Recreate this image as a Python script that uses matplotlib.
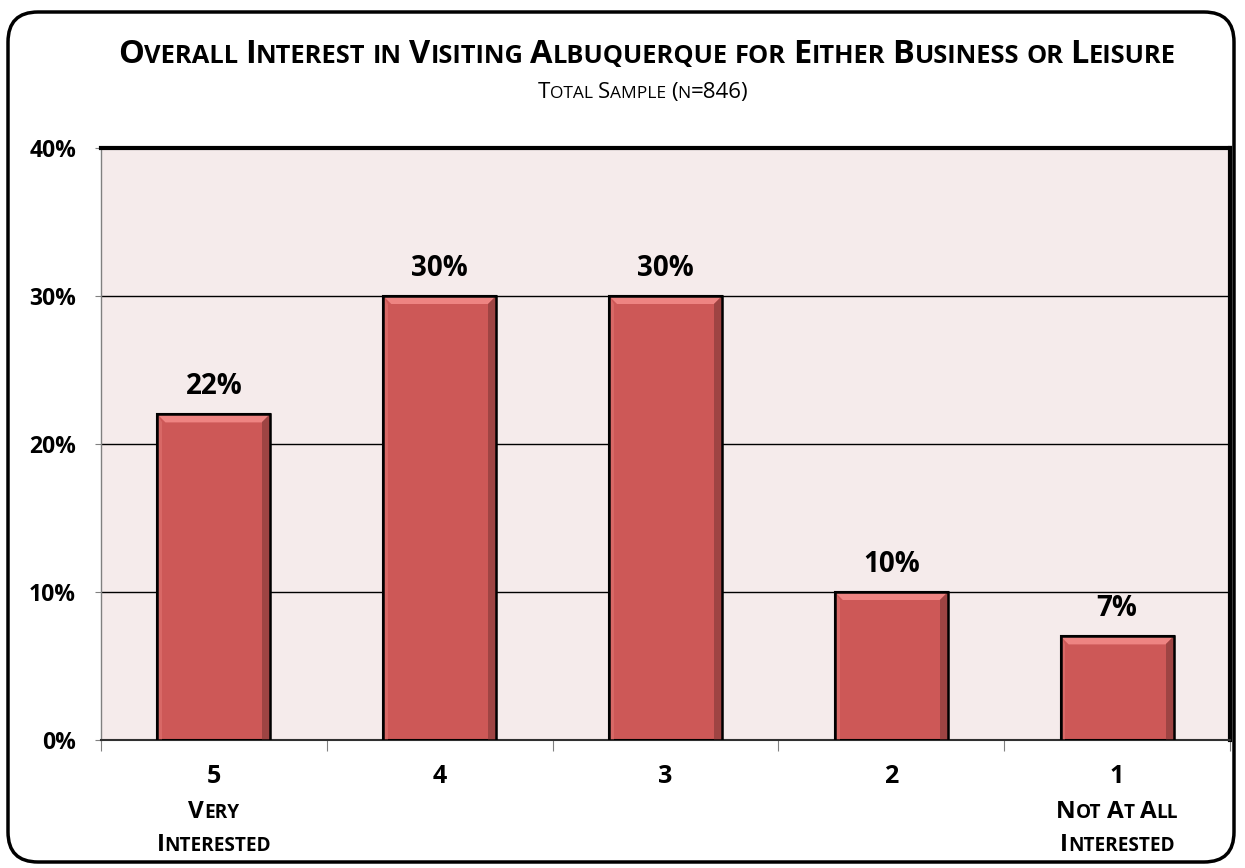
import matplotlib.pyplot as plt
from matplotlib.patches import FancyBboxPatch, Polygon
import numpy as np

# data
categories = ["5", "4", "3", "2", "1"]
sublabels = [["Very", "Interested"], [], [], [], ["Not At All", "Interested"]]
values = [22, 30, 30, 10, 7]
yticks = [0, 10, 20, 30, 40]

W, H = 1245, 868
plt.rcParams["font.family"] = ["Open Sans", "DejaVu Sans"]

fig = plt.figure(figsize=(W / 100, H / 100), dpi=100)
r = fig.canvas.get_renderer()


def px(x, y):
    return x / W, 1 - y / H


def small_caps(x, y, s, size, weight="bold", color="black"):
    # fake small caps: lowercase letters -> uppercase at smaller size
    runs = []
    for ch in s:
        kind = "space" if ch == " " else ("small" if ch.islower() else "big")
        if runs and runs[-1][1] == kind:
            runs[-1][0] += ch.upper()
        else:
            runs.append([ch.upper(), kind])
    pieces = []
    total = 0
    for txt, kind in runs:
        if kind == "space":
            w = len(txt) * size * 100 / 72 * 0.22
            pieces.append((None, w))
        else:
            fs = size * 0.78 if kind == "small" else size
            t = fig.text(0, 0, txt, fontsize=fs, fontweight=weight, color=color,
                         ha="left", va="baseline")
            w = t.get_window_extent(r).width
            pieces.append((t, w))
        total += w
    cur = x - total / 2
    for t, w in pieces:
        if t is not None:
            t.set_position(px(cur, y))
        cur += w


# outer rounded frame
frame = FancyBboxPatch((8 / 100, 6 / 100), (1234 - 8) / 100, (858 - 8) / 100,
                       boxstyle="round,pad=0,rounding_size=0.3",
                       transform=fig.dpi_scale_trans, fill=False,
                       edgecolor="black", linewidth=2.5, zorder=0)
fig.patches.append(frame)

# titles
small_caps(647, 63, "Overall Interest in Visiting Albuquerque for Either Business or Leisure", 23.5)
small_caps(643, 98, "Total Sample (n=846)", 16, weight="normal")

# axes
left, right, top, bottom = 101, 1230, 148, 740
ax = fig.add_axes([left / W, 1 - bottom / H, (right - left) / W, (bottom - top) / H])
ax.set_facecolor("#F5EBEB")
x = np.arange(len(categories))
ax.set_xlim(-0.5, len(categories) - 0.5)
ax.set_ylim(0, 40)

ax.grid(axis="y", color="black", linewidth=1)
ax.set_axisbelow(True)

bar_w = 0.5
ax.bar(x, values, width=bar_w, color="#CD5857", edgecolor="black",
       linewidth=1.5, zorder=3)

# bevel effect
px_x = (right - left) / len(categories)  # px per category
px_y = (bottom - top) / 40.0             # px per percent
bx = 8 / px_x
by = 8 / px_y
for xi, v in zip(x, values):
    x0, x1 = xi - bar_w / 2, xi + bar_w / 2
    ax.add_patch(Polygon([(x0, v), (x1, v), (x1 - bx, v - by), (x0 + bx, v - by)],
                         closed=True, facecolor="#EE8482", edgecolor="none", zorder=4))
    ax.add_patch(Polygon([(x1, v), (x1, 0), (x1 - bx, 0), (x1 - bx, v - by)],
                         closed=True, facecolor="#9E4443", edgecolor="none", zorder=4))
    ax.add_patch(Polygon([(x0, v), (x0, 0), (x0 + bx * 0.6, 0), (x0 + bx * 0.6, v - by)],
                         closed=True, facecolor="#D86866", edgecolor="none", zorder=4))
    ax.bar(xi, v, width=bar_w, fill=False, edgecolor="black", linewidth=1.8, zorder=5)
    ax.text(xi, v + 20 / px_y, f"{v}%", ha="center", va="baseline",
            fontsize=20, fontweight="bold")

# spines
ax.spines["top"].set_linewidth(3)
ax.spines["right"].set_linewidth(3)
ax.spines["left"].set_color("#808080")
ax.spines["left"].set_linewidth(1)
ax.spines["bottom"].set_color("#303030")
ax.spines["bottom"].set_linewidth(1.5)

ax.set_yticks(yticks)
ax.set_yticklabels([f"{t}%" for t in yticks], fontsize=16.5, fontweight="bold")
ax.tick_params(axis="y", length=4, color="#808080", pad=14)
ax.set_xticks(np.arange(len(categories) + 1) - 0.5)
ax.set_xticklabels([])
ax.tick_params(axis="x", length=8, color="#808080", direction="out")

# x labels
for i, (c, sub) in enumerate(zip(categories, sublabels)):
    cx = left + (i + 0.5) * px_x
    fig.text(*px(cx, 783), c, ha="center", va="baseline", fontsize=18, fontweight="bold")
    for j, s in enumerate(sub):
        small_caps(cx, 818 + j * 33, s, 17.5)

fig.savefig("out.png", dpi=100)
